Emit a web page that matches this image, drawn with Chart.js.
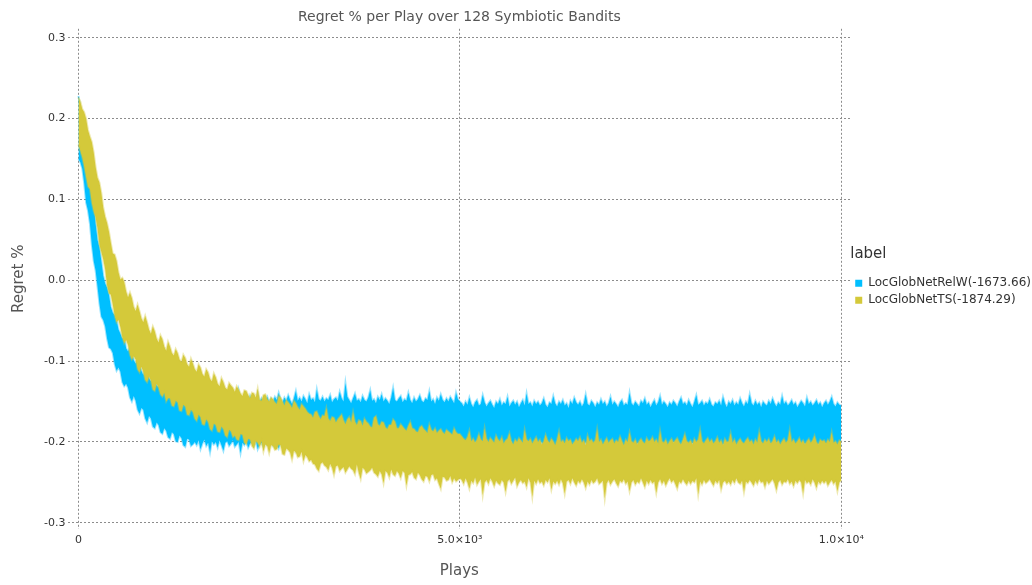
<!DOCTYPE html>
<html>
<head>
<meta charset="utf-8">
<title>Regret % per Play over 128 Symbiotic Bandits</title>
<script src="https://cdn.jsdelivr.net/npm/chart.js@4.4.1/dist/chart.umd.min.js"></script>
<style>
  html, body { margin: 0; padding: 0; background: #ffffff; }
  #wrap { width: 1032px; height: 585px; position: relative; }
</style>
</head>
<body>
<div id="wrap"><canvas id="regretChart" width="1032" height="585"></canvas></div>
<script>
// band edges are sampled every PLAY_STEP plays (0 .. 10000),
// values are regret in thousandths (-152 == -0.152)
const PLAY_STEP = 25;

const seriesNames = ["LocGlobNetRelW(-1673.66)", "LocGlobNetTS(-1874.29)"];

// LocGlobNetRelW band: upper edge / lower edge
const relwHigh = [
  228, 214, 200, 190, 172, 148, 130, 116, 97, 70,
  50, 41, 24, 6, -4, -9, -18, -33, -40, -43,
  -49, -61, -66, -72, -70, -84, -88, -82, -87, -99,
  -103, -96, -104, -112, -117, -108, -114, -121, -125, -117,
  -123, -130, -132, -124, -127, -135, -138, -129, -135, -141,
  -142, -133, -137, -145, -148, -139, -141, -150, -151, -140,
  -145,
  -152, -147, -150, -155, -143, -149, -151, -146, -154, -138,
  -149, -152, -148, -144, -153, -150, -141, -151, -147, -155,
  -149, -145, -152, -136, -148, -151, -146, -150, -154, -143,
  -149, -147, -152, -140, -150, -146, -153, -148, -144, -151,
  -146, -150, -144, -148, -139, -147, -151, -145, -149, -142,
  -148, -153, -146, -137, -149, -145, -150, -143, -147, -152,
  -141, -148, -146, -151, -135, -147, -149, -144, -150, -146,
  -148, -142, -151, -147, -145, -149, -138, -146, -150, -127,
  -144, -148, -152, -146, -140, -149, -147, -151, -143, -148,
  -150, -145, -136, -149, -147, -152, -144, -148, -141, -150,
  -146, -149, -153, -145, -133, -148, -150, -146, -143, -151,
  -147, -149, -139, -148, -152, -145, -150, -147, -142, -149,
  -151, -146, -148, -137, -150, -147, -153, -145, -149, -141,
  -148, -151, -146, -150, -144, -148, -152, -139, -147, -150,
  -152, -156, -150, -154, -145, -153, -157, -151, -148, -155,
  -153, -142, -151, -156, -152, -149, -154, -158, -150, -153,
  -147, -155, -151, -153, -144, -156, -152, -149, -154, -150,
  -157, -152, -148, -155, -140, -153, -151, -156, -149, -153,
  -150, -155, -152, -146, -154, -157, -151, -153, -143, -152,
  -156, -150, -153, -148, -155, -152, -158, -149, -153, -145,
  -151, -154, -150, -156, -152, -141, -153, -155, -149, -152,
  -157, -151, -154, -147, -153, -150, -156, -152, -144, -154,
  -150, -153, -157, -151, -148, -155, -152, -154, -139, -152,
  -155, -150, -153, -156, -149, -152, -146, -154, -151, -157,
  -152, -148, -155, -151, -143, -154, -150, -153, -157, -151,
  -154, -149, -152, -156, -150, -145, -153, -151, -155, -148,
  -153, -157, -150, -142, -154, -152, -149, -155, -151, -153,
  -147, -154, -156, -151, -153, -149, -155, -144, -152, -157,
  -150, -153, -148, -155, -151, -154, -146, -152, -156, -150,
  -153, -141, -152, -155, -149, -154, -151, -157, -150, -153,
  -155, -149, -153, -146, -152, -156, -151, -154, -143, -153,
  -150, -155, -152, -148, -154, -151, -157, -153, -149, -152,
  -156, -145, -153, -150, -155, -152, -148, -154, -151, -157,
  -152, -149, -154, -150, -144, -153, -156, -151, -154, -155
];
const relwLow = [
  150, 146, 138, 120, 96, 86, 70, 44, 24, 12,
  -8, -29, -45, -49, -57, -72, -83, -85, -90, -104,
  -112, -108, -113, -126, -131, -128, -133, -145, -150, -143,
  -149, -160, -165, -158, -160, -171, -176, -168, -171, -181,
  -183, -176, -179, -188, -190, -183, -186, -194, -196, -188,
  -190, -199, -200, -192, -195, -204, -206, -196, -197, -205,
  -203,
  -200, -204, -198, -209, -202, -197, -205, -201, -213, -199,
  -203, -200, -207, -198, -204, -211, -201, -199, -205, -202,
  -198, -206, -203, -200, -214, -201, -204, -199, -207, -202,
  -200, -205, -198, -209, -203, -201, -206, -199, -204, -202,
  -199, -204, -197, -202, -208, -200, -203, -198, -205, -201,
  -206, -199, -202, -210, -200, -197, -204, -201, -207, -199,
  -203, -198, -205, -200, -202, -209, -199, -204, -201, -197,
  -205, -200, -203, -198, -207, -201, -204, -199, -202, -206,
  -200, -203, -198, -205, -201, -211, -199, -204, -200, -202,
  -207, -198, -203, -201, -205, -199, -202, -208, -200, -204,
  -198, -203, -206, -200, -202, -199, -205, -201, -209, -203,
  -200, -204, -198, -202, -206, -201, -203, -199, -205, -200,
  -202, -207, -199, -204, -201, -198, -203, -210, -200, -205,
  -201, -203, -199, -206, -202, -200, -204, -198, -203, -201,
  -203, -207, -201, -205, -210, -202, -204, -199, -206, -203,
  -200, -208, -204, -198, -205, -211, -202, -206, -201, -204,
  -207, -202, -205, -200, -209, -203, -199, -206, -202, -210,
  -204, -200, -207, -202, -205, -201, -208, -203, -206, -201,
  -209, -203, -200, -206, -202, -207, -204, -199, -205, -211,
  -202, -206, -203, -208, -201, -205, -202, -209, -204, -200,
  -206, -202, -210, -203, -207, -200, -205, -201, -208, -204,
  -201, -207, -203, -199, -206, -202, -209, -204, -201, -207,
  -205, -200, -208, -203, -206, -210, -202, -205, -199, -207,
  -203, -208, -201, -206, -204, -200, -209, -203, -206, -205,
  -202, -206, -200, -207, -203, -211, -204, -201, -205, -208,
  -204, -199, -206, -202, -208, -203, -200, -205, -207, -202,
  -206, -201, -204, -209, -202, -205, -200, -207, -203, -206,
  -201, -208, -204, -200, -206, -203, -210, -202, -205, -201,
  -207, -203, -205, -199, -204, -208, -202, -206, -203, -209,
  -200, -205, -203, -207, -201, -206, -204, -211, -202, -205,
  -203, -208, -201, -205, -207, -200, -206, -203, -209, -204,
  -206, -202, -205, -200, -208, -204, -201, -207, -203, -205,
  -201, -206, -209, -203, -205, -200, -207, -202, -204, -208,
  -204, -201, -206, -203, -210, -205, -202, -207, -203, -205
];

// LocGlobNetTS band: upper edge / lower edge
const tsHigh = [
  226, 221, 212, 208, 200, 186, 178, 171, 158, 140,
  127, 121, 108, 90, 79, 71, 60, 46, 33, 32,
  24, 10, 1, 3, -2, -14, -21, -15, -22, -33,
  -38, -30, -38, -47, -52, -44, -52, -61, -66, -57,
  -63, -72, -77, -68, -73, -82, -87, -76, -82, -90,
  -93, -85, -90, -98, -101, -92, -96, -104, -107, -97,
  -103, -110, -113, -104, -108, -116, -119, -110, -114, -122,
  -125, -115, -120, -128, -131, -121, -126, -133, -135, -127,
  -130,
  -133, -138, -131, -135, -140, -143, -136, -137, -142, -146,
  -139, -140, -145, -134, -148, -149, -142, -141, -147, -150,
  -145, -147, -151, -153, -143, -145, -150, -155, -148, -151,
  -154, -158, -149, -152, -157, -160, -153, -156, -159, -163,
  -165, -166, -170, -163, -162, -168, -172, -167, -168, -158,
  -171, -174, -169, -170, -176, -172, -169, -166, -173, -178,
  -172, -169, -176, -163, -175, -179, -173, -174, -180, -171,
  -175, -177, -181, -182, -170, -168, -178, -180, -175, -176,
  -182, -184, -179, -179, -172, -175, -183, -183, -178, -181,
  -184, -186, -180, -175, -183, -184, -187, -188, -182, -180,
  -184, -186, -189, -178, -185, -187, -183, -189, -186, -184,
  -188, -190, -185, -187, -189, -191, -183, -188, -190, -190,
  -193, -196, -198, -194, -186, -199, -196, -201, -197, -190,
  -197, -199, -183, -196, -200, -195, -198, -201, -192, -197,
  -199, -194, -202, -198, -196, -189, -199, -203, -197, -200,
  -195, -198, -201, -185, -197, -199, -196, -202, -198, -194,
  -200, -197, -203, -199, -191, -198, -201, -196, -199, -204,
  -197, -187, -200, -198, -202, -195, -199, -197, -203, -200,
  -196, -199, -194, -201, -198, -204, -192, -199, -197, -201,
  -198, -184, -200, -197, -203, -199, -195, -201, -198, -196,
  -202, -198, -200, -193, -199, -204, -197, -200, -188, -199,
  -201, -197, -203, -199, -196, -200, -202, -195, -199, -198,
  -194, -200, -197, -202, -186, -199, -201, -197, -203, -199,
  -196, -201, -198, -195, -200, -203, -197, -190, -199, -201,
  -198, -203, -196, -200, -197, -185, -199, -202, -198, -195,
  -200, -197, -202, -199, -194, -201, -198, -204, -196, -200,
  -199, -189, -201, -197, -203, -199, -196, -200, -202, -198,
  -195, -200, -198, -203, -197, -201, -187, -199, -202, -197,
  -200, -196, -202, -199, -193, -201, -198, -203, -199, -196,
  -201, -198, -185, -200, -197, -202, -199, -195, -201, -198,
  -203, -199, -196, -201, -198, -192, -200, -203, -197, -199,
  -198, -202, -197, -200, -188, -201, -199, -203, -198, -200
];
const tsLow = [
  168, 160, 152, 141, 128, 116, 113, 96, 85, 78,
  64, 44, 35, 26, 14, -6, -16, -18, -30, -44,
  -52, -49, -58, -70, -78, -74, -80, -92, -98, -94,
  -98, -110, -114, -107, -113, -123, -126, -119, -124, -135,
  -137, -128, -133, -141, -144, -139, -150, -146, -146, -155,
  -156, -149, -151, -161, -162, -154, -156, -166, -167, -160,
  -163, -171, -174, -166, -169, -178, -179, -172, -175, -184,
  -186, -177, -179, -187, -188, -181, -184, -192, -194, -185,
  -187,
  -194, -192, -197, -198, -190, -191, -201, -203, -196, -197,
  -205, -208, -199, -201, -206, -199, -212, -203, -205, -214,
  -204, -205, -210, -209, -203, -204, -215, -216, -208, -210,
  -213, -222, -211, -213, -219, -218, -212, -224, -216, -219,
  -224, -222, -227, -228, -233, -236, -227, -225, -229, -231,
  -235, -227, -232, -241, -230, -229, -236, -233, -231, -238,
  -234, -230, -233, -235, -240, -228, -238, -246, -232, -234,
  -239, -237, -235, -232, -238, -240, -243, -236, -240, -251,
  -236, -238, -244, -234, -240, -242, -236, -239, -245, -236,
  -238, -254, -241, -240, -237, -244, -246, -238, -241, -246,
  -249, -242, -243, -249, -241, -240, -247, -245, -252, -258,
  -243, -244, -248, -247, -242, -250, -245, -249, -247, -245,
  -247, -252, -245, -250, -258, -248, -251, -244, -253, -249,
  -246, -266, -250, -247, -252, -245, -249, -255, -248, -251,
  -253, -247, -250, -262, -249, -246, -252, -248, -244, -255,
  -250, -247, -251, -249, -256, -245, -250, -268, -248, -252,
  -246, -251, -249, -254, -247, -250, -245, -259, -249, -252,
  -248, -253, -246, -251, -264, -249, -247, -252, -245, -250,
  -254, -248, -251, -246, -250, -257, -249, -253, -247, -251,
  -249, -245, -252, -250, -248, -270, -251, -247, -253, -249,
  -246, -251, -255, -248, -250, -246, -252, -249, -261, -250,
  -247, -253, -249, -251, -245, -250, -256, -248, -252, -247,
  -251, -249, -263, -250, -246, -252, -248, -254, -249, -245,
  -250, -247, -252, -258, -249, -251, -246, -250, -253, -248,
  -252, -248, -250, -245, -265, -249, -253, -247, -251, -249,
  -246, -250, -254, -248, -251, -247, -259, -250, -248, -252,
  -249, -253, -247, -251, -245, -250, -252, -248, -262, -249,
  -251, -247, -250, -254, -248, -252, -246, -250, -249, -256,
  -248, -252, -249, -246, -251, -260, -250, -247, -253, -249,
  -250, -246, -252, -249, -255, -248, -251, -247, -250, -264,
  -247, -251, -249, -253, -246, -250, -257, -249, -252, -248,
  -251, -248, -254, -250, -247, -252, -249, -261, -250, -247
];

const yTickValues = [-0.3, -0.2, -0.1, 0.0, 0.1, 0.2, 0.3];
const xTickValues = [0, 5000, 10000];
const xTickLabels = ["0", "5.0×10³", "1.0×10⁴"];

const RELW_COLOR = "#00bfff";
const RELW_EDGE = "rgba(0, 191, 255, 0.4)";
const TS_COLOR = "#d4c93a";
const TS_EDGE = "rgba(212, 201, 58, 0.4)";
const GRID_COLOR = "#8c8c8c";
const INK = "#333333";
const TITLE_INK = "#555555";

function toPoints(values) {
  return values.map((v, i) => ({ x: i * PLAY_STEP, y: v / 1000 }));
}

function bandEdge(label, values, edgeColor, fillColor, fill) {
  return {
    label,
    data: toPoints(values),
    borderColor: edgeColor,
    backgroundColor: fillColor,
    borderWidth: 2,
    pointRadius: 0,
    tension: 0,
    fill,
  };
}

Chart.defaults.font.family = "'DejaVu Sans', 'Liberation Sans', sans-serif";
Chart.defaults.color = INK;

// TS first so it is painted on top of RelW
const datasets = [
  bandEdge("ts-high", tsHigh, TS_EDGE, TS_COLOR, false),
  bandEdge("ts-low", tsLow, TS_EDGE, TS_COLOR, "-1"),
  bandEdge("relw-high", relwHigh, RELW_EDGE, RELW_COLOR, false),
  bandEdge("relw-low", relwLow, RELW_EDGE, RELW_COLOR, "-1"),
];

new Chart(document.getElementById("regretChart"), {
  type: "line",
  data: { datasets },
  options: {
    responsive: false,
    animation: false,
    events: [],
    devicePixelRatio: 1,
    layout: { padding: { left: 10, right: -9, top: 0, bottom: 0 } },
    plugins: {
      title: {
        display: true,
        text: "Regret % per Play over 128 Symbiotic Bandits",
        fullSize: false,
        color: TITLE_INK,
        font: { size: 14, weight: "normal" },
        padding: { top: 9, bottom: 3 },
      },
      legend: {
        position: "right",
        fullSize: false,
        title: {
          display: true,
          text: "label",
          position: "start",
          color: INK,
          font: { size: 15 },
          padding: { top: 0, bottom: 8 },
        },
        labels: {
          boxWidth: 7,
          boxHeight: 7,
          padding: 5,
          color: INK,
          font: { size: 12 },
          generateLabels() {
            return [
              { text: seriesNames[0], fillStyle: RELW_COLOR, strokeStyle: RELW_COLOR, lineWidth: 0, hidden: false, datasetIndex: 2 },
              { text: seriesNames[1], fillStyle: TS_COLOR, strokeStyle: TS_COLOR, lineWidth: 0, hidden: false, datasetIndex: 0 },
            ];
          },
        },
      },
      tooltip: { enabled: false },
    },
    scales: {
      x: {
        type: "linear",
        min: -131,
        max: 10118,
        afterBuildTicks(scale) {
          scale.ticks = xTickValues.map((value) => ({ value }));
        },
        ticks: {
          padding: 5,
          color: INK,
          font: { size: 11 },
          maxRotation: 0,
          callback(value) {
            const idx = xTickValues.indexOf(value);
            return idx >= 0 ? xTickLabels[idx] : "";
          },
        },
        grid: { color: GRID_COLOR, drawTicks: false, lineWidth: 1 },
        border: { display: false, dash: [2, 2] },
        title: {
          display: true,
          text: "Plays",
          color: TITLE_INK,
          font: { size: 15 },
          padding: { top: 10, bottom: 5 },
        },
      },
      y: {
        type: "linear",
        min: -0.3074,
        max: 0.3111,
        afterBuildTicks(scale) {
          scale.ticks = yTickValues.map((value) => ({ value }));
        },
        ticks: {
          padding: 3,
          color: INK,
          font: { size: 11 },
          callback(value) {
            return Number(value).toFixed(1);
          },
        },
        grid: { color: GRID_COLOR, drawTicks: false, lineWidth: 1 },
        border: { display: false, dash: [2, 2] },
        title: {
          display: true,
          text: "Regret %",
          color: TITLE_INK,
          font: { size: 15 },
          padding: { top: 0, bottom: 13 },
        },
      },
    },
  },
});
</script>
</body>
</html>
